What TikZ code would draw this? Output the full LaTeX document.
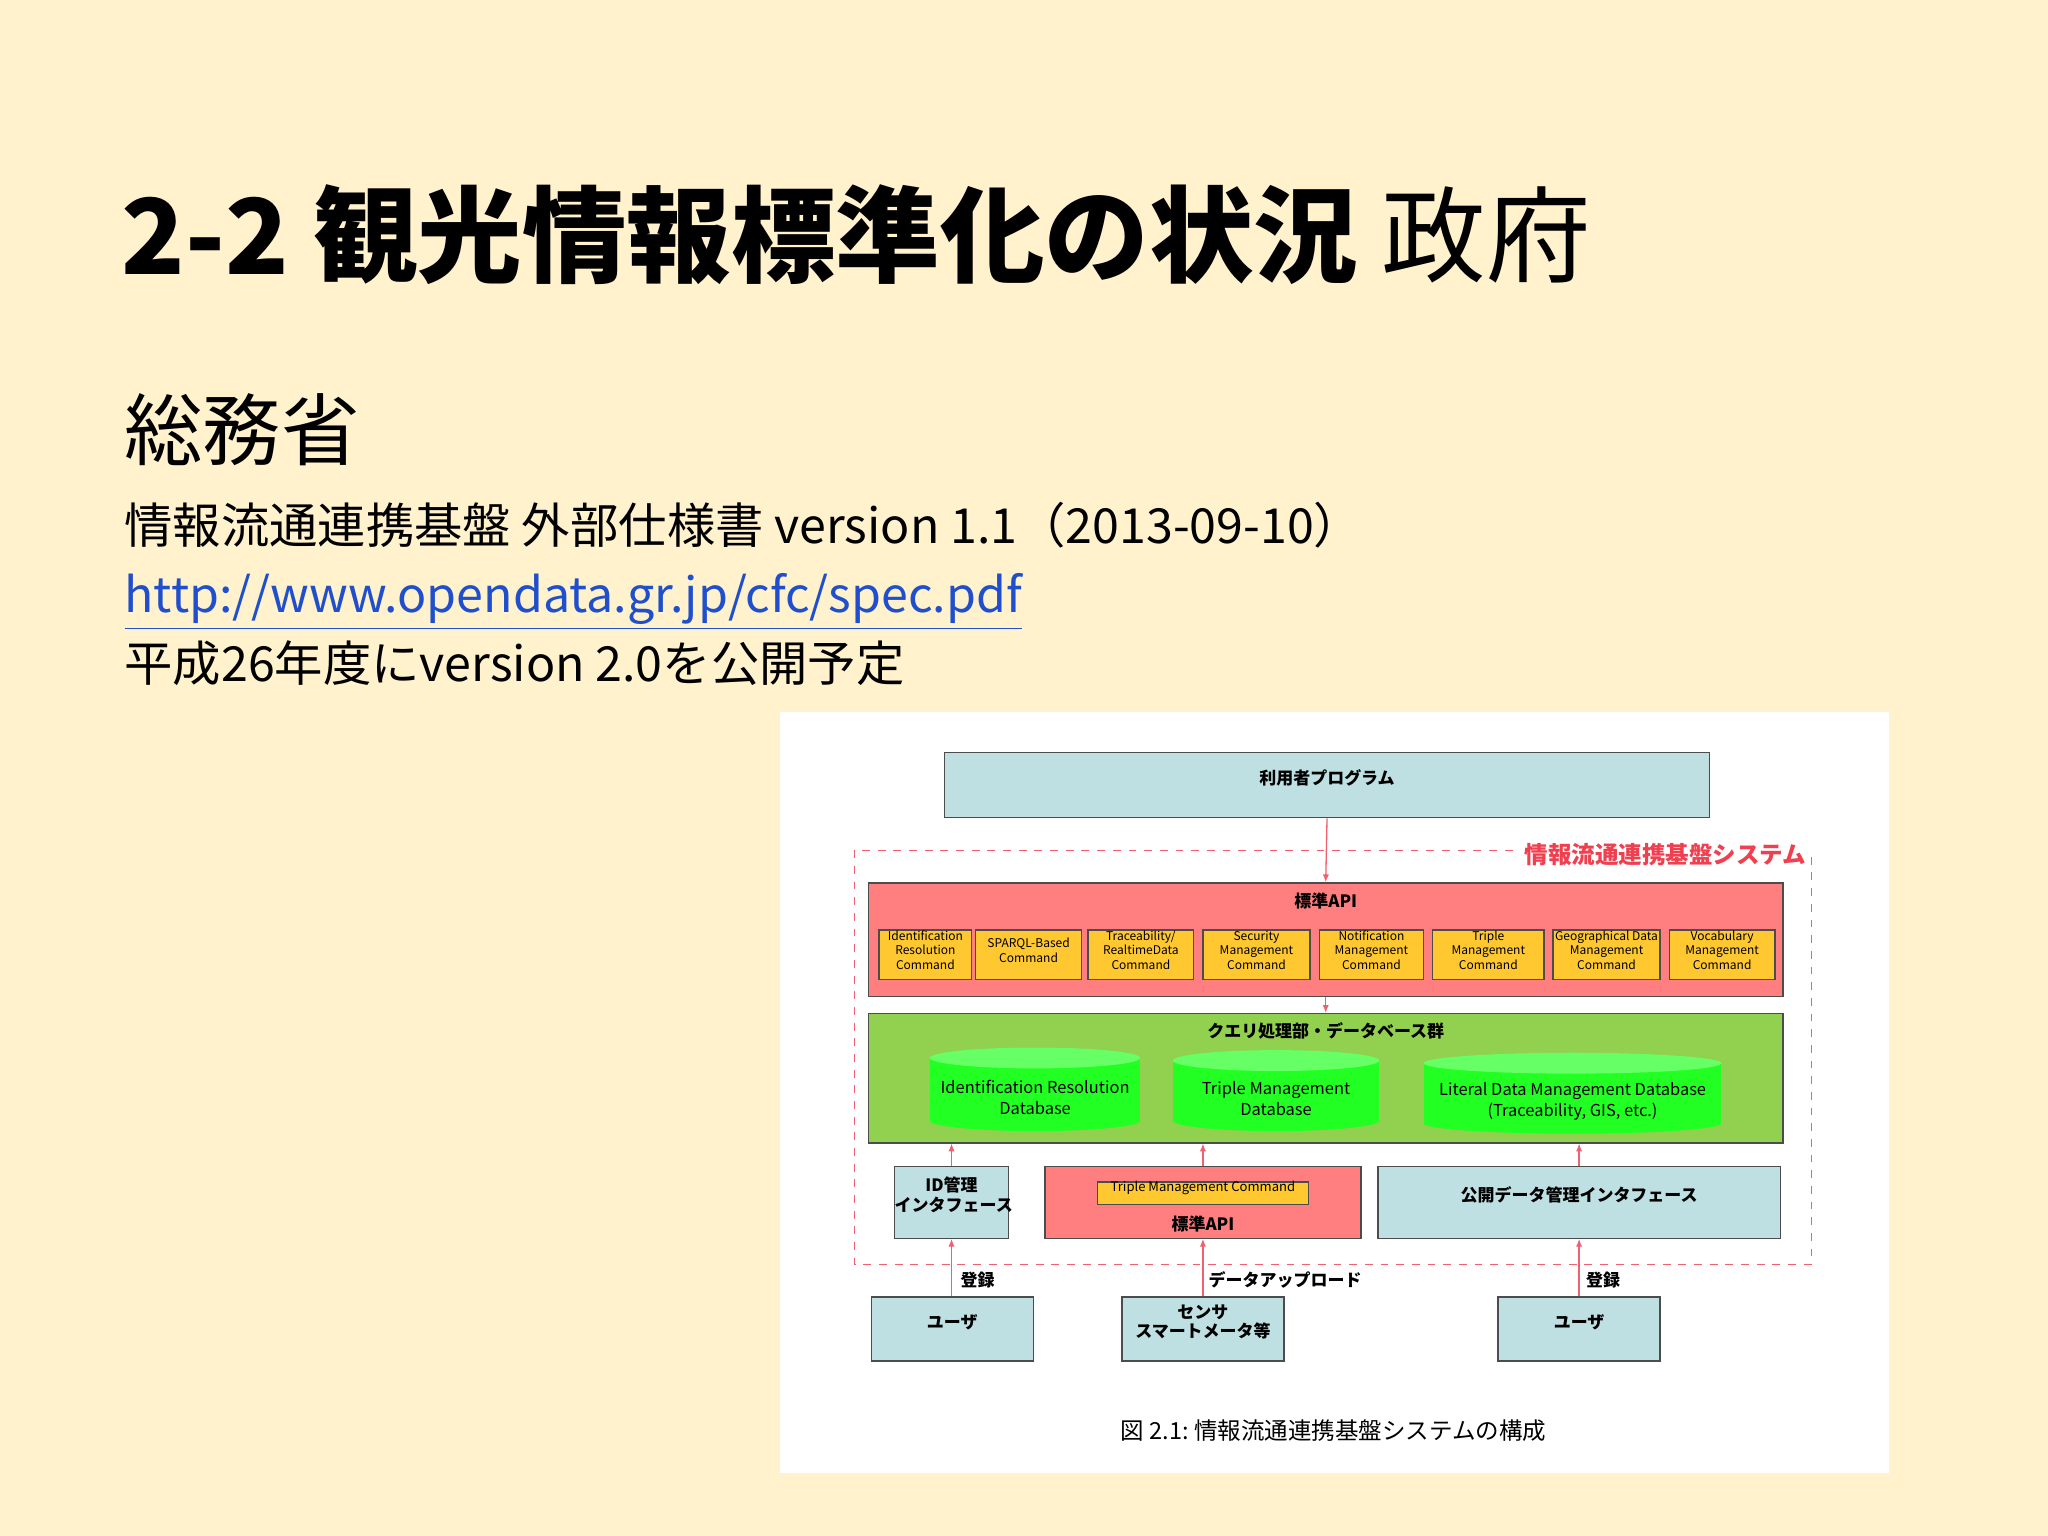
\documentclass[tikz,border=0pt]{standalone}
\usepackage{fontspec}
\setmainfont{Noto Sans CJK JP}
\newfontfamily\jp{Noto Sans CJK JP}
\usetikzlibrary{fit,arrows.meta}
\definecolor{bg}{HTML}{FFF2CC}
\definecolor{lblue}{HTML}{BFE0E3}
\definecolor{apired}{HTML}{FF7F80}
\definecolor{cmdy}{HTML}{FFC830}
\definecolor{qgreen}{HTML}{92D050}
\definecolor{dbg}{HTML}{22FF22}
\definecolor{dbtop}{HTML}{66FF66}
\definecolor{lnred}{HTML}{F06070}
\definecolor{sysred}{HTML}{F04050}
\definecolor{urlblue}{HTML}{1F4FCC}
\begin{document}
\begin{tikzpicture}[x=0.5pt,y=-0.5pt,
  box/.style={draw=black!70, line width=0.5pt, inner sep=0pt, font=\fontsize{6.5}{7.5}\selectfont\bfseries, align=center},
  cmd/.style={box, fill=cmdy, font=\fontsize{4.6}{5.6}\selectfont},
  arr/.style={draw=lnred, line width=0.5pt, -{Latex[length=3pt,width=2.4pt]}},
  small/.style={font=\fontsize{6.5}{7.5}\selectfont\bfseries, inner sep=1pt}]
\fill[bg] (0,0) rectangle (1568,1176);
% texts
\node[anchor=base west, inner sep=0, font=\fontsize{40}{44}\selectfont] (title) at (93,210) {\textbf{2-2 観光情報標準化の状況} 政府};
\node[anchor=base west, inner sep=0, font=\fontsize{30}{34}\selectfont] (somu) at (95,352) {総務省};
\node[anchor=base west, inner sep=0, font=\fontsize{18.5}{22}\selectfont] (spec) at (95,416) {情報流通連携基盤 外部仕様書 version 1.1（2013-09-10）};
\node[anchor=base west, inner sep=0, font=\fontsize{18.5}{22}\selectfont, text=urlblue] (url) at (95,469) {\underline{http://www.opendata.gr.jp/cfc/spec.pdf}};
\node[anchor=base west, inner sep=0, font=\fontsize{18.5}{22}\selectfont] (plan) at (95,522) {平成26年度にversion 2.0を公開予定};
% panel
\fill[white] (597,545) rectangle (1446,1128);
% dashed system region
\draw[lnred, dashed, line width=0.5pt] (654,651) rectangle (1387,968);
\node[fill=white, text=sysred, font=\fontsize{9}{10}\selectfont\bfseries, inner sep=2pt] (syslbl) at (1275,654) {情報流通連携基盤システム};
% top program
\node[box, fill=lblue, fit={(723,576)(1309,626)}] (prog) {利用者プログラム};
% API box
\node[box, fill=apired, fit={(665,676)(1365,763)}] (api) {};
\node[small] (apit) at (1015,690) {標準API};
\node[cmd, fit={(673,712)(744,750)}] (c1) {Identification\\Resolution\\Command};
\node[cmd, fit={(747,712)(828,750)}] (c2) {SPARQL-Based\\Command};
\node[cmd, fit={(833,712)(914,750)}] (c3) {Traceability/\\RealtimeData\\Command};
\node[cmd, fit={(921,712)(1003,750)}] (c4) {Security\\Management\\Command};
\node[cmd, fit={(1010,712)(1090,750)}] (c5) {Notification\\Management\\Command};
\node[cmd, fit={(1097,712)(1182,750)}] (c6) {Triple\\Management\\Command};
\node[cmd, fit={(1189,712)(1271,750)}] (c7) {Geographical Data\\Management\\Command};
\node[cmd, fit={(1278,712)(1359,750)}] (c8) {Vocabulary\\Management\\Command};
% query box
\node[box, fill=qgreen, fit={(665,776)(1365,875)}] (query) {};
\node[small] (queryt) at (1015,789) {クエリ処理部・データベース群};
% cylinders
\foreach \xa/\xb/\yt/\yb/\nm in {712/873/810/858/db1, 898/1056/812/858/db2, 1090/1318/814/860/db3}{
  \fill[dbg] (\xa,\yt) rectangle (\xb,\yb);
  \fill[dbg] ({(\xa+\xb)/2},\yb) ellipse [x radius={(\xb-\xa)/2}, y radius=8];
  \fill[dbtop] ({(\xa+\xb)/2},\yt) ellipse [x radius={(\xb-\xa)/2}, y radius=8];
}
\node[font=\fontsize{6.3}{8}\selectfont, align=center] (db1) at (792.5,840) {Identification Resolution\\Database};
\node[font=\fontsize{6.3}{8}\selectfont, align=center] (db2) at (977,841) {Triple Management\\Database};
\node[font=\fontsize{6.3}{8}\selectfont, align=center] (db3) at (1204,843) {Literal Data Management Database\\(Traceability, GIS, etc.)};
% interface row
\node[box, fill=lblue, fit={(685,893)(772,948)}] (idif) {ID管理\\インタフェース};
\node[box, fill=apired, fit={(800,893)(1042,948)}] (api2) {};
\node[cmd, font=\fontsize{5}{6}\selectfont, fit={(840,905)(1002,922)}] (tmc) {Triple Management Command};
\node[small] (api2t) at (921,937) {標準API};
\node[box, fill=lblue, fit={(1055,893)(1363,948)}] (pubif) {公開データ管理インタフェース};
% bottom row
\node[box, fill=lblue, fit={(667,993)(791,1042)}] (user1) {ユーザ};
\node[box, fill=lblue, fit={(859,993)(983,1042)}] (sensor) {センサ\\スマートメータ等};
\node[box, fill=lblue, fit={(1147,993)(1271,1042)}] (user2) {ユーザ};
% arrows
\draw[arr] (prog.south) -- (api.north);
\draw[arr] (api.south) -- (query.north);
\draw[arr] (idif.north) -- (idif.north |- query.south);
\draw[arr] (api2.north) -- (api2.north |- query.south);
\coordinate (pubtop) at (1209,893);
\draw[arr] (pubtop) -- (pubtop |- query.south);
\draw[arr] (user1.north -| idif.north) -- (idif.south);
\draw[arr] (sensor.north) -- (sensor.north |- api2.south);
\draw[arr] (user2.north) -- (user2.north |- pubif.south);
\node[small, anchor=west] (reg1) at (733,980) {登録};
\node[small, anchor=west] (upl) at (923,980) {データアップロード};
\node[small, anchor=west] (reg2) at (1212,980) {登録};
% caption
\node[font=\fontsize{9}{11}\selectfont] (cap) at (1021,1095) {図 2.1:\ 情報流通連携基盤システムの構成};
\end{tikzpicture}
\end{document}
